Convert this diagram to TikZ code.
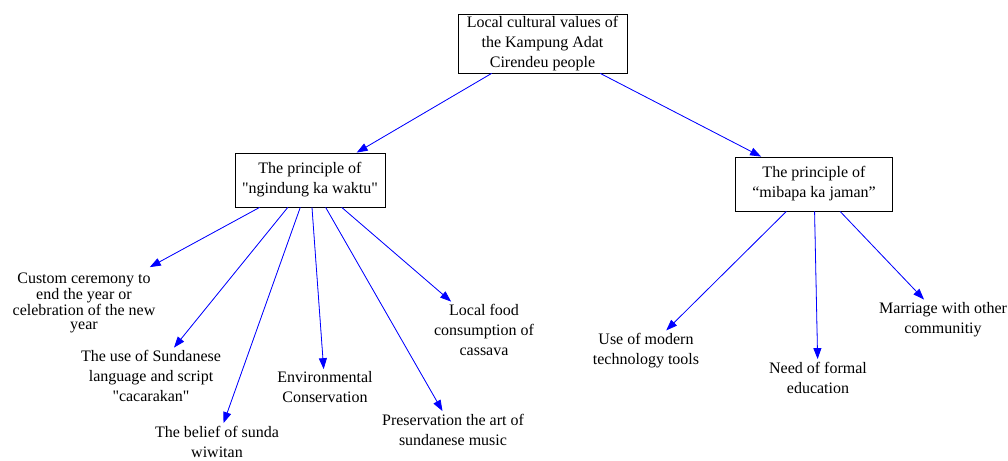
\documentclass[tikz,border=0pt]{standalone}
\usepackage{fontspec}
\setmainfont{Liberation Serif}
\usetikzlibrary{arrows.meta}
\newcommand{\sq}{\XeTeXglyph\the\XeTeXcharglyph"0022\relax}
\begin{document}
\begin{tikzpicture}[x=1pt,y=-1pt,
  every node/.style={font=\fontsize{16}{20}\selectfont, align=center},
  boxnode/.style={draw, line width=0.8pt, inner sep=0pt},
  leaf/.style={inner xsep=2pt, inner ysep=2.5pt},
  edge/.style={draw=blue, line width=0.8pt, -{Triangle[length=11pt,width=8pt]}, fill=blue}
]
\useasboundingbox (0,0) rectangle (1008,460);
\node[boxnode, minimum width=169, minimum height=59] (root) at (542.5,43.5) {Local cultural values of\\the Kampung Adat\\Cirendeu people};
\node[boxnode, minimum width=150, minimum height=54] (left) at (310,180) {The principle of\\\sq ngindung ka waktu\sq};
\node[boxnode, minimum width=157, minimum height=54] (right) at (814,184) {The principle of\\“mibapa ka jaman”};

\node[leaf, font=\fontsize{16}{14}\selectfont, inner ysep=6pt] (custom) at (84,303) {Custom ceremony to\\end the year or\\celebration of the new\\year};
\node[leaf] (sund) at (151,376) {The use of Sundanese\\language and script\\\sq cacarakan\sq};
\node[leaf] (belief) at (217,441.5) {The belief of sunda\\wiwitan};
\node[leaf] (env) at (325,387.5) {Environmental\\Conservation};
\node[leaf] (pres) at (453,429.5) {Preservation the art of\\sundanese music};
\node[leaf] (food) at (484,330) {Local food\\consumption of\\cassava};
\node[leaf] (tech) at (646,350.5) {Use of modern\\technology tools};
\node[leaf] (edu) at (818,377.5) {Need of formal\\education};
\node[leaf] (marr) at (943,319.5) {Marriage with other\\communitiy};

\draw[edge] (root) -- (left);
\draw[edge] (root) -- (right);
\draw[edge] (left) -- (custom);
\draw[edge] (left) -- (sund);
\draw[edge] (left) -- (belief);
\draw[edge] (left) -- (env);
\draw[edge] (left) -- (pres);
\draw[edge] (left) -- (food);
\draw[edge] (right) -- (tech);
\draw[edge] (right) -- (edu);
\draw[edge] (right) -- (marr);
\end{tikzpicture}
\end{document}
